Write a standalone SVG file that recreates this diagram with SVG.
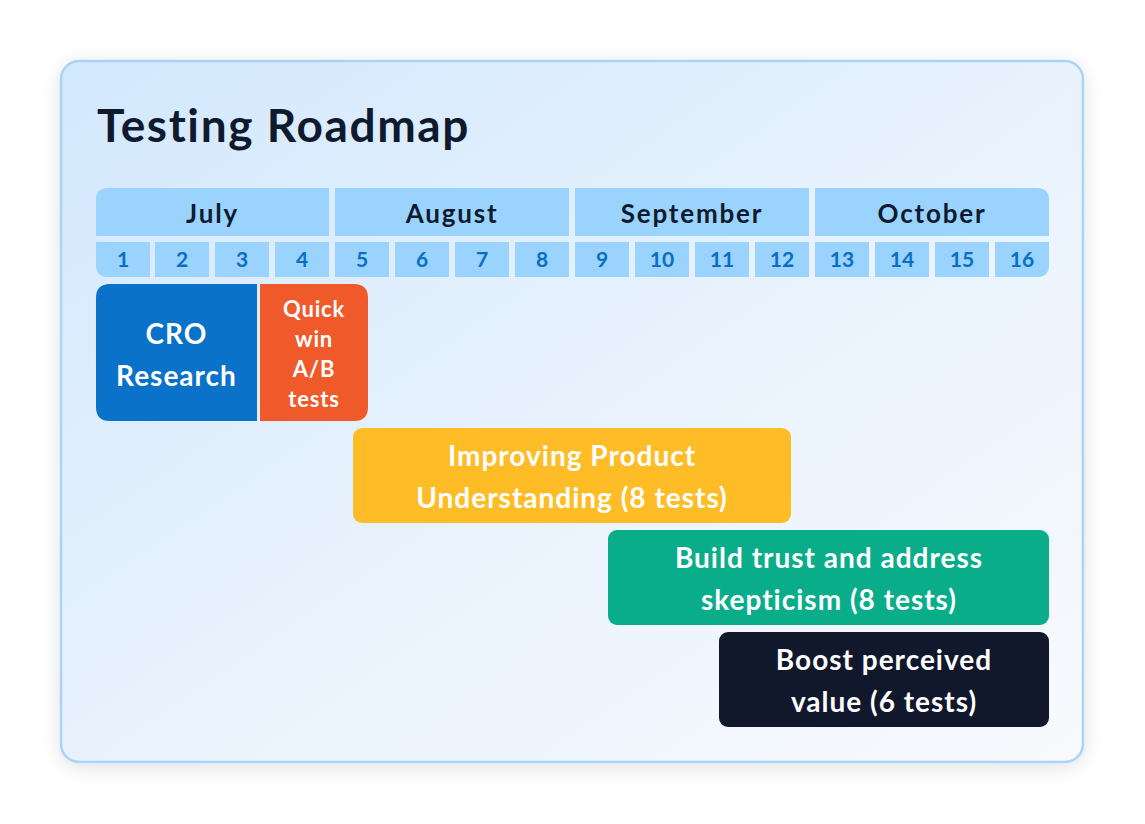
<svg xmlns="http://www.w3.org/2000/svg" width="1145" height="824" viewBox="0 0 1145 824">
<defs>
<linearGradient id="cardBg" x1="0" y1="0" x2="1" y2="1">
<stop offset="0" stop-color="#d2e8fd"/>
<stop offset="0.55" stop-color="#eaf3fd"/>
<stop offset="1" stop-color="#f8fafd"/>
</linearGradient>
<filter id="shadow" x="-10%" y="-10%" width="120%" height="120%">
<feGaussianBlur in="SourceAlpha" stdDeviation="10"/>
<feOffset dx="0" dy="4"/>
<feComponentTransfer><feFuncA type="linear" slope="0.12"/></feComponentTransfer>
<feMerge><feMergeNode/><feMergeNode in="SourceGraphic"/></feMerge>
</filter>
</defs>
<style>
text{font-variant-ligatures:none}
.t{font-family:Lato,"Noto Sans","Liberation Sans",sans-serif;font-weight:700;text-anchor:middle}
.month{fill:#99d3fe}
.mtxt{font-size:26px;fill:#0f1a2e;letter-spacing:1.8px}
.day{fill:#99d3fe}
.dtxt{font-size:21px;fill:#0a6ec4}
.w{fill:#ffffff}
.big{font-size:28px;letter-spacing:1px}
.sm{font-size:22px;letter-spacing:0.8px}
</style>
<rect width="1145" height="824" fill="#ffffff"/>
<g id="card">
<rect x="61" y="61" width="1022" height="701" rx="18" fill="url(#cardBg)" stroke="#a9d4f8" stroke-width="2.5" filter="url(#shadow)"/>
<text x="97" y="142" style="font-family:Lato,'Noto Sans','Liberation Sans',sans-serif;font-weight:700;font-size:46px;letter-spacing:1.6px;fill:#0f1a2e">Testing Roadmap</text>
</g>
<g id="months">
<path class="month" d="M108 188 H329 V236 H96 V200 Q96 188 108 188 Z"/>
<rect class="month" x="335" y="188" width="234" height="48"/>
<rect class="month" x="575" y="188" width="234" height="48"/>
<path class="month" d="M815 188 H1037 Q1049 188 1049 200 V236 H815 Z"/>
<text class="t mtxt" x="212.5" y="223">July</text>
<text class="t mtxt" x="452" y="223">August</text>
<text class="t mtxt" x="692" y="223">September</text>
<text class="t mtxt" x="932" y="223">October</text>
</g>
<g id="days">
<path class="day" d="M96 242 H150 V277 H108 Q96 277 96 265 Z"/>
<rect class="day" x="155" y="242" width="54" height="35"/>
<rect class="day" x="215" y="242" width="54" height="35"/>
<rect class="day" x="275" y="242" width="54" height="35"/>
<rect class="day" x="335" y="242" width="54" height="35"/>
<rect class="day" x="395" y="242" width="54" height="35"/>
<rect class="day" x="455" y="242" width="54" height="35"/>
<rect class="day" x="515" y="242" width="54" height="35"/>
<rect class="day" x="575" y="242" width="54" height="35"/>
<rect class="day" x="635" y="242" width="54" height="35"/>
<rect class="day" x="695" y="242" width="54" height="35"/>
<rect class="day" x="755" y="242" width="54" height="35"/>
<rect class="day" x="815" y="242" width="54" height="35"/>
<rect class="day" x="875" y="242" width="54" height="35"/>
<rect class="day" x="935" y="242" width="54" height="35"/>
<path class="day" d="M995 242 H1049 V265 Q1049 277 1037 277 H995 Z"/>
<text class="t dtxt" x="123" y="267">1</text>
<text class="t dtxt" x="182" y="267">2</text>
<text class="t dtxt" x="242" y="267">3</text>
<text class="t dtxt" x="302" y="267">4</text>
<text class="t dtxt" x="362" y="267">5</text>
<text class="t dtxt" x="422" y="267">6</text>
<text class="t dtxt" x="482" y="267">7</text>
<text class="t dtxt" x="542" y="267">8</text>
<text class="t dtxt" x="602" y="267">9</text>
<text class="t dtxt" x="662" y="267">10</text>
<text class="t dtxt" x="722" y="267">11</text>
<text class="t dtxt" x="782" y="267">12</text>
<text class="t dtxt" x="842" y="267">13</text>
<text class="t dtxt" x="902" y="267">14</text>
<text class="t dtxt" x="962" y="267">15</text>
<text class="t dtxt" x="1022" y="267">16</text>
</g>
<g id="cro-research">
<path d="M110 284 H257 V421 H110 Q96 421 96 407 V298 Q96 284 110 284 Z" fill="#0a72c8"/>
<text class="t w big" x="176.5" y="344">CRO</text>
<text class="t w big" x="176.5" y="386">Research</text>
</g>
<g id="quick-win">
<path d="M260 284 H354 Q368 284 368 298 V407 Q368 421 354 421 H260 Z" fill="#f05a2a"/>
<text class="t w sm" x="314" y="317">Quick</text>
<text class="t w sm" x="314" y="347">win</text>
<text class="t w sm" x="314" y="377">A/B</text>
<text class="t w sm" x="314" y="407">tests</text>
</g>
<g id="improving-product">
<rect x="353" y="428" width="438" height="95" rx="9" fill="#febd26"/>
<text class="t w big" x="572" y="466">Improving Product</text>
<text class="t w big" x="572" y="508">Understanding (8 tests)</text>
</g>
<g id="build-trust">
<rect x="608" y="530" width="441" height="95" rx="9" fill="#0aad8a"/>
<text class="t w big" x="829" y="568">Build trust and address</text>
<text class="t w big" x="829" y="610">skepticism (8 tests)</text>
</g>
<g id="boost-value">
<rect x="719" y="632" width="330" height="95" rx="9" fill="#12182b"/>
<text class="t w big" x="884" y="670">Boost perceived</text>
<text class="t w big" x="884" y="712">value (6 tests)</text>
</g>
<g id="connectors"></g>
</svg>
